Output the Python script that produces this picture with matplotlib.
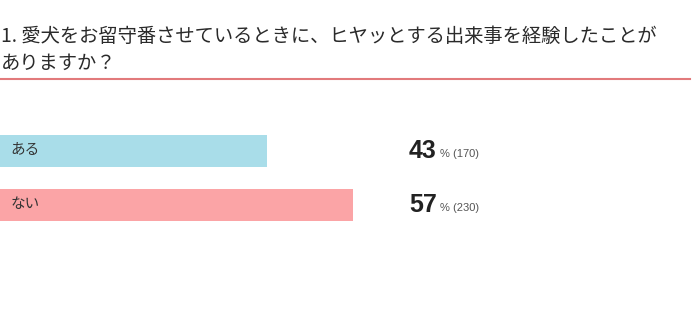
import matplotlib.pyplot as plt

plt.rcParams['font.family'] = ['Noto Sans CJK JP', 'DejaVu Sans']

title_lines = ["1. 愛犬をお留守番させているときに、ヒヤッとする出来事を経験したことが", "ありますか？"]
labels = ["ある", "ない"]
percents = [43, 57]
counts = [170, 230]
colors = ["#a9dde9", "#fba4a6"]

W, H = 700, 327
fig = plt.figure(figsize=(W / 100, H / 100), dpi=100)

# title
fig.text(1 / W, 1 - 36 / H, title_lines[0], fontsize=13.9, color="#2a2a2a", va="center", ha="left")
fig.text(1 / W, 1 - 63 / H, title_lines[1], fontsize=13.9, color="#2a2a2a", va="center", ha="left")
fig.add_artist(plt.Line2D([0, 690 / W], [1 - 79 / H, 1 - 79 / H], color="#e27a7c", lw=1.5))

# bars
ax = fig.add_axes([0, 1 - 232 / H, 1, 108 / H])
ypos = list(range(len(labels)))
ax.barh(ypos, percents, height=0.61, color=colors)
ax.set_xlim(0, W / 6.2)
ax.set_ylim(1.5, -0.5)
ax.axis("off")

blend = ax.get_yaxis_transform().__class__(ax.transAxes, ax.transData)
for y, lab, p, c in zip(ypos, labels, percents, counts):
    ax.text(1.7, y - 0.02, lab, fontsize=10.5, color="#333333", va="center", ha="left")
    t = ax.text(409 / W, y, f"{p}", transform=blend, family="Liberation Sans",
                fontsize=18, fontweight="bold", color="#222222", va="center", ha="left")
    ax.annotate(f"% ({c})", xy=(1, 0.5), xycoords=t, xytext=(2.5, -2), textcoords="offset points",
                family="Liberation Sans", fontsize=8, color="#555555", va="center", ha="left")

fig.savefig("out.png", dpi=100)
